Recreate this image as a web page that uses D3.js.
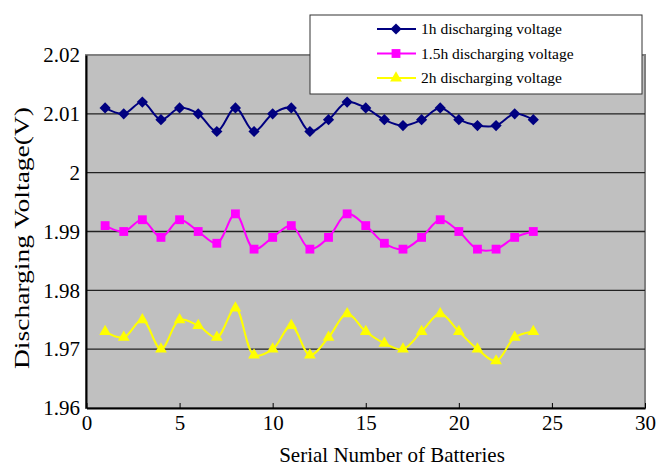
<!DOCTYPE html>
<html>
<head>
<meta charset="utf-8">
<script src="https://cdn.jsdelivr.net/npm/d3@7"></script>
<style>
  body { margin: 0; background: #fff; }
  svg { display: block; }
  text { font-family: "Liberation Serif", "Times New Roman", serif; fill: #000; }
</style>
</head>
<body>
<svg width="656" height="466"></svg>
<script>
'use strict';

// battery serial numbers 1..24
var batteries = [1,2,3,4,5,6,7,8,9,10,11,12,13,14,15,16,17,18,19,20,21,22,23,24];

var volt1h  = [2.011,2.010,2.012,2.009,2.011,2.010,2.007,2.011,2.007,2.010,2.011,2.007,
               2.009,2.012,2.011,2.009,2.008,2.009,2.011,2.009,2.008,2.008,2.010,2.009];
var volt15h = [1.991,1.990,1.992,1.989,1.992,1.990,1.988,1.993,1.987,1.989,1.991,1.987,
               1.989,1.993,1.991,1.988,1.987,1.989,1.992,1.990,1.987,1.987,1.989,1.990];
var volt2h  = [1.973,1.972,1.975,1.970,1.975,1.974,1.972,1.977,1.969,1.970,1.974,1.969,
               1.972,1.976,1.973,1.971,1.970,1.973,1.976,1.973,1.970,1.968,1.972,1.973];

var seriesNames = ['1h discharging voltage', '1.5h discharging voltage', '2h discharging voltage'];
var xTicks = [0, 5, 10, 15, 20, 25, 30];
var yTicks = [1.96, 1.97, 1.98, 1.99, 2, 2.01, 2.02];

var series = [
    {name: seriesNames[0], values: volt1h,  color: '#000080', symbol: d3.symbolDiamond2, size: 80},
    {name: seriesNames[1], values: volt15h, color: '#ff00ff', symbol: d3.symbolSquare,   size: 78},
    {name: seriesNames[2], values: volt2h,  color: '#ffff00', symbol: d3.symbolTriangle, size: 60}
];

var svg = d3.select('svg');
var plotL = 86, plotR = 645, plotT = 55, plotB = 408;

var x = d3.scaleLinear().domain([0, 30]).range([plotL + 0.5, plotR]);
var y = d3.scaleLinear().domain([1.96, 2.02]).range([plotB, plotT]);

// plot background
svg.append('rect')
    .attr('x', plotL).attr('y', plotT)
    .attr('width', plotR - plotL).attr('height', plotB - plotT)
    .attr('fill', '#c0c0c0')
    .attr('stroke', '#808080')
    .attr('stroke-width', 2);

// grid lines
svg.append('g').selectAll('line')
    .data(yTicks.slice(1, -1))
    .enter().append('line')
        .attr('x1', plotL).attr('x2', plotR)
        .attr('y1', function(d){ return y(d); })
        .attr('y2', function(d){ return y(d); })
        .attr('stroke', '#222')
        .attr('stroke-width', 1.3);

// axes
var xAxis = d3.axisBottom(x).tickValues(xTicks).tickSizeInner(-5).tickSizeOuter(0).tickPadding(7);
var xg = svg.append('g').attr('transform', 'translate(0,' + plotB + ')').call(xAxis);
xg.select('.domain').attr('stroke', '#000').attr('stroke-width', 2);
xg.selectAll('.tick line').attr('stroke', '#000');
xg.selectAll('text').style('font-size', '21px').style('font-family', '"Liberation Serif", serif');

var yAxis = d3.axisLeft(y).tickValues(yTicks).tickSize(0).tickPadding(6)
    .tickFormat(function(d){ return d3.format('')(+d.toFixed(2)); });
var yg = svg.append('g').attr('transform', 'translate(' + plotL + ',0)').call(yAxis);
yg.select('.domain').attr('stroke', '#000').attr('stroke-width', 2);
yg.selectAll('text').style('font-size', '21px').style('font-family', '"Liberation Serif", serif');

// axis titles
svg.append('text')
    .attr('x', 392).attr('y', 462)
    .attr('text-anchor', 'middle')
    .style('font-size', '21px')
    .text('Serial Number of Batteries');

svg.append('text')
    .attr('transform', 'translate(29,238) rotate(-90)')
    .attr('text-anchor', 'middle')
    .attr('textLength', 262)
    .attr('lengthAdjust', 'spacingAndGlyphs')
    .style('font-size', '22px')
    .text('Discharging Voltage(V)');

// lines + markers
var line = d3.line()
    .x(function(d, i){ return x(batteries[i]); })
    .y(function(d){ return y(d); })
    .curve(d3.curveCatmullRom.alpha(0.5));

series.forEach(function(s){
    svg.append('path')
        .attr('d', line(s.values))
        .attr('fill', 'none')
        .attr('stroke', s.color)
        .attr('stroke-width', 2);

    svg.append('g').selectAll('path')
        .data(s.values)
        .enter().append('path')
            .attr('transform', function(d, i){
                return 'translate(' + x(batteries[i]) + ',' + y(d) + ')';
            })
            .attr('d', d3.symbol().type(s.symbol).size(s.size))
            .attr('fill', s.color);
});

// legend
var legend = svg.append('g');
legend.append('rect')
    .attr('x', 310).attr('y', 15)
    .attr('width', 332).attr('height', 79)
    .attr('fill', '#fff')
    .attr('stroke', '#333')
    .attr('stroke-width', 1);

var items = legend.selectAll('g.item')
    .data(series)
    .enter().append('g')
        .attr('class', 'item')
        .attr('transform', function(d, i){ return 'translate(0,' + (29 + i * 24.5) + ')'; });

items.append('line')
    .attr('x1', 377).attr('x2', 416)
    .attr('stroke', function(d){ return d.color; })
    .attr('stroke-width', 2);
items.append('path')
    .attr('transform', 'translate(396,0)')
    .attr('d', function(d){ return d3.symbol().type(d.symbol).size(d.size)(); })
    .attr('fill', function(d){ return d.color; });
items.append('text')
    .attr('x', 421).attr('y', 5)
    .style('font-size', '15.5px')
    .text(function(d){ return d.name; });
</script>
</body>
</html>
